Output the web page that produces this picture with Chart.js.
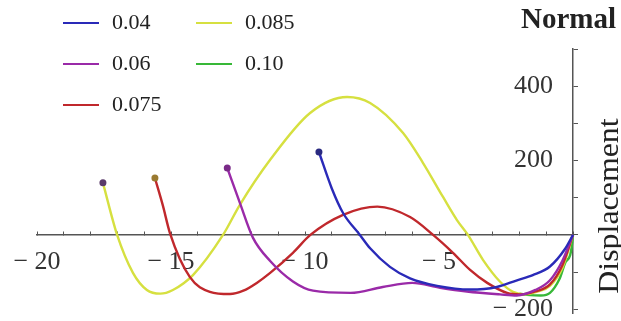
<!DOCTYPE html>
<html>
<head>
<meta charset="utf-8">
<script src="https://cdn.jsdelivr.net/npm/chart.js@4.4.1/dist/chart.umd.min.js"></script>
<style>
  body { margin: 0; background: #fff; }
  #wrap { position: relative; width: 621px; height: 321px; overflow: hidden; font-family: "Liberation Serif", "Times New Roman", serif; color: #222; }
  #chart { position: absolute; left: 0; top: 0; }
  .key { position: absolute; font-size: 22px; line-height: 24px; white-space: nowrap; }
  .key i { display: inline-block; width: 36px; height: 2px; vertical-align: middle; margin-right: 13px; margin-top: -2px; }
  #title { position: absolute; left: 521px; top: 2px; font-size: 29px; font-weight: bold; line-height: 32px; }
  #ylab { position: absolute; left: 508px; top: 191px; width: 200px; text-align: center; font-size: 29px; line-height: 30px; transform: rotate(-90deg) scaleX(1.1); }
</style>
</head>
<body>
<div id="wrap">
  <canvas id="chart" width="621" height="321"></canvas>
  <div id="title">Normal</div>
  <div id="ylab">Displacement</div>
</div>
<script>
// Nilai (perkiraan)
const seriesNames = ['0.04', '0.06', '0.075', '0.085', '0.10'];
const lineColors = ['#2a2ab8', '#9a2aa8', '#c0282c', '#d6e040', '#38b838'];
const markColors = ['#2a2a80', '#7a2a88', '#9a7a30', '#5a3a6a', '#38b838'];

const x004 = [-9.48, -9.0, -8.58, -7.95, -7.57, -6.83, -6.08, -5.07, -3.84, -2.84, -2.09, -1.5, -0.86, -0.3, 0];
const y004 = [223, 125, 59, 0, -36, -86, -117, -137, -147, -140, -122, -108, -85, -38, 0];

const x006 = [-12.9, -12.43, -11.94, -11.3, -10.45, -9.7, -8.3, -7.1, -6.0, -4.96, -3.96, -2.72, -2.1, -1.4, -0.86, -0.4, 0];
const y006 = [180, 86, -8, -70, -125, -150, -156, -140, -129, -142, -152, -160, -163, -148, -122, -70, 0];

const x0075 = [-15.6, -15.3, -15.04, -14.3, -13.55, -12.8, -12.3, -11.8, -11.3, -10.45, -9.8, -8.58, -7.3, -6.08, -5.22, -4.48, -3.84, -3.2, -2.46, -1.98, -1.4, -0.86, -0.4, 0];
const y0075 = [153, 78, 5, -113, -153, -159, -150, -129, -102, -48, 0, 54, 76, 48, 0, -48, -94, -129, -156, -160, -152, -133, -82, 0];

const x0085 = [-17.54, -17.01, -16.42, -15.9, -15.4, -14.93, -14.18, -13.06, -12.43, -11.3, -9.81, -8.43, -7.57, -6.34, -5.6, -4.85, -4.33, -3.92, -3.36, -2.72, -2.24, -1.8, -1.3, -0.86, -0.4, 0];
const y0085 = [140, 0, -102, -148, -158, -148, -108, 0, 81, 202, 328, 371, 355, 274, 194, 102, 40, 0, -67, -126, -153, -160, -152, -137, -90, 0];

const x010 = [-2.0, -1.6, -1.2, -0.86, -0.5, -0.25, 0, 0.01];
const y010 = [-158, -162, -163, -156, -118, -70, 0, 45];

const xSeries = [x004, x006, x0075, x0085, x010];
const ySeries = [y004, y006, y0075, y0085, y010];

// legenda: dua kolom, urut ke bawah
const legendCols = [63, 196];
const legendRows = [10, 51, 92];
const wrap = document.getElementById('wrap');
seriesNames.forEach((name, i) => {
    const el = document.createElement('div');
    el.className = 'key';
    el.style.left = legendCols[Math.floor(i / 3)] + 'px';
    el.style.top = legendRows[i % 3] + 'px';
    el.innerHTML = '<i style="background:' + lineColors[i] + '"></i>' + name;
    wrap.appendChild(el);
});

const serif = '"Liberation Serif", "Times New Roman", serif';
const minusLabel = v => v < 0 ? '\u2212 ' + Math.abs(v) : String(v);

const datasets = seriesNames.map((name, i) => ({
    label: name,
    data: xSeries[i].map((x, j) => ({ x: x, y: ySeries[i][j] })),
    showLine: true,
    borderColor: lineColors[i],
    backgroundColor: markColors[i],
    borderWidth: 2.4,
    cubicInterpolationMode: 'monotone',
    pointRadius: ctx => (ctx.dataIndex === 0 && i < 4) ? 3.5 : 0,
    pointBorderWidth: 0,
    clip: false
}));

new Chart(document.getElementById('chart'), {
    type: 'scatter',
    data: { datasets: datasets },
    options: {
        responsive: false,
        animation: false,
        layout: { padding: { left: 37, right: 48, top: 49, bottom: 8 } },
        plugins: { legend: { display: false }, tooltip: { enabled: false } },
        scales: {
            x: {
                type: 'linear',
                min: -20,
                max: 0,
                position: { y: 0 },
                afterFit: s => { s.height = 0; s.paddingLeft = 0; s.paddingRight = 0; },
                grid: { drawOnChartArea: false, tickLength: -4, color: '#555' },
                border: { color: '#555', width: 1.5 },
                ticks: {
                    stepSize: 1,
                    autoSkip: false,
                    maxRotation: 0,
                    padding: 16,
                    color: '#333',
                    font: { family: serif, size: 26 },
                    callback: v => (v % 5 === 0 && v !== 0) ? minusLabel(v) : ''
                }
            },
            y: {
                type: 'linear',
                min: -210,
                max: 500,
                position: 'right',
                afterFit: s => { s.width = 0; s.paddingTop = 0; s.paddingBottom = 0; },
                grid: { drawOnChartArea: false, tickLength: 5, color: '#555' },
                border: { color: '#555', width: 1.5 },
                ticks: {
                    stepSize: 50,
                    includeBounds: false,
                    mirror: true,
                    padding: -20,
                    color: '#333',
                    font: { family: serif, size: 26 },
                    callback: v => (v % 200 === 0 && v !== 0) ? minusLabel(v) : ''
                }
            }
        }
    }
});
</script>
</body>
</html>
